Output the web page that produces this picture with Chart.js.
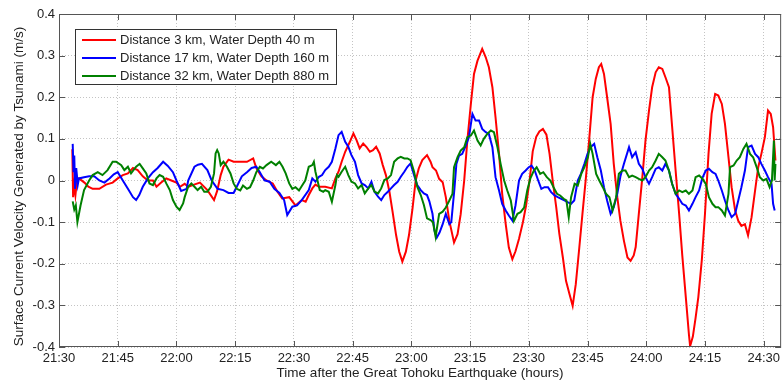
<!DOCTYPE html>
<html>
<head>
<meta charset="utf-8">
<script src="https://cdn.jsdelivr.net/npm/chart.js@4.4.1/dist/chart.umd.min.js"></script>
<style>
  html, body { margin: 0; padding: 0; background: #fff; overflow: hidden; }
  #wrap { position: relative; width: 784px; height: 380px; }
</style>
</head>
<body>
<div id="wrap"><canvas id="tsunamiChart"></canvas></div>
<script>
// ── Data: [minutes after 21:30, velocity m/s] ──
const seriesLabels = [
  'Distance 3 km, Water Depth 40 m',
  'Distance 17 km, Water Depth 160 m',
  'Distance 32 km, Water Depth 880 m'
];
const seriesColors = ['#ff0000', '#0000ff', '#008000'];

const timeTickLabels = ['21:30', '21:45', '22:00', '22:15', '22:30', '22:45', '23:00',
  '23:15', '23:30', '23:45', '24:00', '24:15', '24:30'];

const redSeries = [
  [3.4,0.075],[3.6,-0.04],[3.9,-0.01],[4.2,-0.035],[4.6,0],[5.1,0.005],[6.5,-0.005],[7.5,-0.015],
  [8.6,-0.02],[10.3,-0.02],[12,-0.01],[13.7,-0.005],[15,0.005],[16.3,0.013],[17.6,0.017],[18.9,0.03],
  [20.1,0.025],[21.4,0.01],[22.7,0],[24,0],[24.9,-0.015],[26.1,-0.005],[27.4,0.005],[28.7,0],
  [30,-0.005],[30.9,-0.015],[32.1,-0.008],[33,-0.015],[34.5,-0.01],[36,-0.005],[37.9,-0.023],
  [39.6,-0.047],[40.4,-0.025],[41.3,0.013],[42,0.033],[43.3,0.05],[44.6,0.045],[46.3,0.045],
  [48,0.045],[49.6,0.053],[50.4,0.03],[51.7,0.01],[53,0],[54.6,-0.007],[55.8,-0.027],[57,-0.043],
  [58.8,-0.04],[60.4,-0.06],[62,-0.047],[63,-0.051],[63.8,-0.035],[64.7,-0.019],[65.5,-0.01],
  [66.4,-0.015],[68,-0.015],[69.7,-0.019],[70.6,0.005],[71.4,0.021],[72.2,0.045],[73.1,0.069],
  [74.3,0.093],[75.2,0.113],[76,0.097],[76.8,0.077],[77.7,0.089],[78.5,0.081],[79.4,0.069],
  [80.2,0.073],[81,0.081],[81.9,0.065],[82.7,0.037],[83.5,0.013],[84.4,-0.027],[85.2,-0.075],
  [86.1,-0.131],[86.9,-0.171],[87.7,-0.195],[88.6,-0.171],[89.4,-0.131],[90.3,-0.067],[91.1,0],
  [91.9,0.029],[92.8,0.049],[94,0.061],[94.9,0.045],[95.4,0.032],[96.3,0.024],[97.1,0.004],
  [98,-0.004],[98.8,-0.04],[99.7,-0.097],[100.9,-0.149],[101.8,-0.129],[102.6,-0.081],[103.5,0],
  [104.3,0.096],[105.2,0.184],[106,0.256],[106.9,0.288],[108.1,0.316],[109,0.296],[109.8,0.272],
  [110.7,0.224],[111.5,0.152],[112.4,0.064],[113.2,-0.032],[114.1,-0.105],[114.9,-0.161],
  [115.8,-0.189],[116.6,-0.17],[117.5,-0.14],[118.5,-0.1],[119.3,-0.06],[120.2,0],[121,0.07],
  [121.9,0.105],[122.7,0.118],[123.6,0.124],[124.5,0.11],[125.3,0.064],[126.1,0],[127,-0.064],
  [127.8,-0.128],[128.7,-0.185],[129.5,-0.241],[130.4,-0.273],[131.2,-0.301],[132,-0.249],
  [132.9,-0.161],[133.7,-0.08],[134.6,0.008],[135.4,0.096],[136.3,0.2],[137.1,0.244],[137.9,0.272],
  [138.5,0.28],[139.2,0.256],[140,0.2],[140.9,0.136],[141.7,0.04],[142.6,-0.04],[143.4,-0.097],
  [144.3,-0.145],[145.2,-0.185],[146,-0.193],[146.8,-0.18],[147.3,-0.16],[148.1,-0.08],[149,0.008],
  [149.8,0.096],[150.7,0.168],[151.5,0.224],[152.4,0.26],[153.2,0.272],[154.1,0.268],[154.9,0.248],
  [155.8,0.224],[156.6,0.13],[157.5,0.024],[158.4,-0.08],[159.2,-0.18],[160.1,-0.28],[160.9,-0.37],
  [161.2,-0.398],[161.9,-0.375],[162.6,-0.33],[163.3,-0.28],[164.2,-0.19],[165,-0.08],[165.9,0.064],
  [166.7,0.16],[167.6,0.208],[168.4,0.204],[169.3,0.184],[170.1,0.136],[171,0.056],[171.8,-0.016],
  [172.7,-0.072],[173.5,-0.097],[174.3,-0.109],[175.2,-0.105],[176,-0.132],[176.9,-0.088],
  [177.8,-0.024],[178.6,0.032],[179.4,0.064],[180.3,0.104],[181.1,0.168],[181.8,0.16],[182.4,0.128],
  [183,0.048]
];

const blueSeries = [
  [3.5,0.088],[3.7,0.02],[3.9,0.06],[4.1,-0.02],[4.4,0.03],[4.8,-0.01],[5.1,0.005],[6.4,0.008],
  [7.7,0.01],[9,0.01],[10.3,0],[11.6,-0.005],[12.9,0.005],[14,0.015],[15,0.02],[16.3,0],
  [17.6,-0.02],[18.9,-0.04],[19.7,-0.047],[20.5,-0.035],[21.4,-0.015],[22.7,0.005],[24,0.02],
  [25.2,0.03],[26.6,0.045],[27.8,0.035],[29.1,0.02],[30,0],[31.2,-0.025],[32.6,-0.02],[33,0],
  [34.6,0.033],[35.5,0.038],[36.5,0.04],[37.9,0.025],[39,0],[40.5,-0.02],[42,-0.023],[43.3,-0.03],
  [44.6,-0.03],[45.4,-0.015],[46.7,0.01],[48,0.02],[49.2,0.03],[50.4,0.033],[51.3,0.02],[52.5,0],
  [53.8,-0.003],[55,-0.02],[56.3,-0.03],[57.5,-0.047],[58.3,-0.083],[59.6,-0.063],[60.8,-0.06],
  [62,-0.047],[63.8,-0.023],[64.7,0.005],[65.5,-0.003],[66.4,0.009],[67.2,0.013],[68,0.025],
  [68.9,0.033],[69.7,0.045],[70.6,0.077],[71.4,0.109],[72.2,0.117],[73.1,0.093],[73.9,0.081],
  [74.7,0.061],[75.6,0.045],[76.4,0.013],[77.3,-0.007],[78.1,-0.011],[79,-0.019],[79.8,-0.003],
  [80.6,-0.027],[81.5,-0.039],[82.3,-0.047],[83.1,-0.035],[84,-0.027],[84.8,-0.019],[85.6,-0.011],
  [86.5,-0.003],[87.3,0.009],[88.2,0.021],[89,0.033],[89.8,0.041],[90.7,0.013],[91.5,-0.011],
  [92.4,-0.023],[93.2,-0.031],[94,-0.035],[94.6,-0.05],[95.4,-0.08],[95.9,-0.12],[96.5,-0.137],
  [97.2,-0.125],[98,-0.105],[98.8,-0.08],[99.7,-0.105],[100.2,-0.1],[101,-0.02],[101.5,0.04],
  [102.2,0.06],[103,0.064],[103.9,0.084],[104.7,0.104],[105.6,0.16],[106.4,0.144],[107.3,0.144],
  [108.1,0.124],[109,0.116],[109.8,0.112],[110.7,0.08],[111.5,0.008],[112.4,-0.024],[113.2,-0.056],
  [114.1,-0.072],[114.9,-0.084],[115.8,-0.096],[116.6,-0.06],[117.5,0],[118.3,0.016],[119.2,0.024],
  [120,0.032],[120.7,0.036],[121.5,0.024],[122.4,0],[123.2,-0.02],[124,-0.016],[124.9,-0.016],
  [125.7,-0.028],[126.6,-0.036],[127.4,-0.04],[128.3,-0.044],[129.1,-0.048],[129.9,-0.052],
  [130.8,-0.056],[131.6,-0.048],[132.5,0],[133.3,0.016],[134.2,0.04],[135,0.064],[135.8,0.08],
  [136.7,0.088],[137.5,0.056],[138.4,0.024],[139.2,-0.016],[140,-0.048],[140.9,-0.08],[141.7,-0.064],
  [142.6,-0.032],[143.4,0.01],[144.3,0.04],[145.6,0.08],[146.4,0.056],[147.3,0.068],[148.1,0.04],
  [149,0.028],[149.8,0.008],[150.7,-0.008],[151.5,0.008],[152.4,0.028],[153.2,0.032],[154.1,0.024],
  [154.9,0.04],[155.8,0.024],[156.6,-0.008],[157.5,-0.032],[158.4,-0.044],[159.2,-0.056],
  [160.1,-0.06],[160.9,-0.072],[161.8,-0.056],[162.6,-0.04],[163.5,-0.024],[164.3,0.005],
  [165.2,0.024],[166,0.028],[166.9,0.02],[167.7,0.016],[168.4,0],[169.3,-0.024],[170.1,-0.048],
  [171,-0.072],[171.8,-0.088],[172.7,-0.08],[173.5,-0.048],[174.3,-0.016],[175.2,0.024],[176,0.08],
  [176.9,0.084],[177.8,0.064],[178.6,0.056],[179.4,0.04],[180.3,0.024],[181.1,0.008],[182,-0.008],
  [182.4,-0.056],[182.8,-0.072]
];

const greenSeries = [
  [3.5,-0.05],[3.9,-0.07],[4.3,-0.06],[4.7,-0.1],[5.5,-0.06],[6.4,-0.023],[7.7,0],[8.6,0.013],
  [9.9,0.02],[11.1,0.013],[12.4,0.025],[13.7,0.045],[14.6,0.045],[15.9,0.037],[16.7,0.025],
  [17.6,0.033],[18.4,0.017],[19.7,0.033],[20.6,0.04],[21.4,0.029],[22.3,0.017],[23.1,-0.007],
  [24,-0.011],[24.9,0.005],[25.7,0.013],[26.6,0.009],[27.4,-0.007],[28.3,-0.023],[29.1,-0.047],
  [30,-0.063],[30.8,-0.071],[31.7,-0.055],[32.1,-0.04],[33,-0.015],[33.8,-0.007],[34.6,-0.015],
  [35.4,-0.023],[36.3,-0.015],[37.1,-0.027],[37.9,-0.027],[38.8,-0.015],[39.6,0.017],[40,0.065],
  [40.4,0.073],[40.8,0.065],[41.3,0.037],[42,0.045],[42.9,0.033],[43.8,0.017],[44.6,-0.007],
  [45.4,-0.02],[46.3,-0.024],[47,-0.012],[48,-0.02],[48.8,-0.016],[49.6,0],[50.4,0.02],[51.3,0.033],
  [52.1,0.029],[53,0.037],[54.2,0.045],[55.4,0.037],[56.3,0.045],[57.1,0.033],[57.9,0.017],
  [58.8,-0.007],[59.6,-0.02],[60.4,-0.016],[61.3,-0.024],[62.1,-0.012],[62.9,0],[63.8,0.033],
  [64.7,0.037],[65.1,0.045],[65.5,0.021],[66.6,-0.023],[67.5,-0.027],[68,-0.023],[68.9,-0.027],
  [69.7,-0.051],[70.6,-0.011],[71,0.013],[71.4,0.009],[72.2,0.021],[73.1,0.033],[73.9,0.013],
  [74.7,-0.003],[75.6,-0.007],[76.4,-0.019],[77.3,-0.011],[78.1,-0.031],[79,-0.019],[79.8,-0.011],
  [80.6,-0.027],[81.5,-0.031],[82.3,-0.019],[83.1,0.001],[84,0.005],[84.8,0.013],[85.6,0.045],
  [86.5,0.053],[87.3,0.057],[88.2,0.053],[89,0.053],[89.8,0.049],[90.7,0.021],[91.5,-0.015],
  [92.4,-0.035],[93.2,-0.059],[94,-0.091],[94.9,-0.095],[95.5,-0.1],[96.2,-0.135],[97.1,-0.08],
  [98,-0.075],[98.8,-0.065],[99.7,-0.048],[100.5,-0.032],[100.9,0.032],[101.8,0.056],[102.6,0.072],
  [103.5,0.08],[104.3,0.104],[105.2,0.108],[106,0.12],[106.9,0.096],[107.7,0.084],[108.5,0.1],
  [109.4,0.112],[110.3,0.12],[111.1,0.116],[112,0.08],[112.8,0.04],[113.7,0],[114.5,-0.024],
  [115.4,-0.048],[116.2,-0.097],[117.1,-0.08],[117.9,-0.076],[118.8,-0.065],[119.6,-0.024],
  [120.4,0.005],[121.3,0.024],[122,0.032],[122.9,0.016],[123.7,0.02],[124.6,0.008],[125.5,0],
  [126.3,-0.016],[127.2,-0.032],[128,-0.036],[128.9,-0.044],[129.6,-0.048],[130.2,-0.088],
  [130.8,-0.04],[131.7,-0.008],[132.5,-0.012],[133.4,0.016],[134.2,0.032],[135.1,0.056],[135.7,0.088],
  [136.3,0.064],[137.2,0.016],[138,0],[138.9,-0.016],[139.7,-0.032],[140.6,-0.04],[141.4,-0.072],
  [142.3,-0.04],[143,0.016],[143.9,0.024],[144.7,0.024],[145.6,0.008],[146.4,0.012],[147.3,0.008],
  [148.1,0.004],[149,0],[149.8,0.008],[150.7,0.024],[151.5,0.032],[152.4,0.048],[153.2,0.064],
  [154.1,0.056],[154.9,0.048],[155.8,0.024],[156.6,-0.008],[157.5,-0.032],[158.4,-0.024],
  [159.2,-0.028],[160.1,-0.024],[160.9,-0.032],[161.8,-0.024],[162.6,0.008],[163.5,0.012],
  [164.3,0.005],[165.2,-0.008],[166,-0.04],[166.9,-0.056],[167.7,-0.064],[168.4,-0.064],
  [169.3,-0.072],[170.1,-0.084],[171,-0.032],[171.4,0.032],[172.3,0.036],[173.1,0.048],[173.9,0.056],
  [174.8,0.076],[175.6,0.088],[176.5,0.064],[177.3,0.056],[178.2,0.032],[179,0.008],[179.9,0],
  [180.7,0.004],[181.5,-0.016],[182.1,0],[182.6,0.096],[182.8,0],[183,0.04]
];

const yTitle = 'Surface Current Velocity Generated by Tsunami (m/s)';
const xTitle = 'Time after the Great Tohoku Earthquake (hours)';

// ── Ortak sabitler ──
const FONT = "'Liberation Sans', Arial, Helvetica, sans-serif";
const FRAME = '#555555';

const toPoints = s => s.map(p => ({ x: p[0], y: p[1] }));

// MATLAB tarzı çerçeve + içe dönük tick'ler
const framePlugin = {
  id: 'frame',
  afterDatasetsDraw(chart) {
    const { ctx, chartArea: a, scales: { x, y } } = chart;
    ctx.save();
    ctx.strokeStyle = FRAME;
    ctx.lineWidth = 1;
    ctx.strokeRect(a.left + 0.5, a.top + 0.5, a.right - a.left - 1, a.bottom - a.top - 1);
    ctx.beginPath();
    x.ticks.forEach(t => {
      const px = Math.round(x.getPixelForValue(t.value)) + 0.5;
      ctx.moveTo(px, a.top); ctx.lineTo(px, a.top + 6);
      ctx.moveTo(px, a.bottom); ctx.lineTo(px, a.bottom - 6);
    });
    y.ticks.forEach(t => {
      const py = Math.round(y.getPixelForValue(t.value)) + 0.5;
      ctx.moveTo(a.left, py); ctx.lineTo(a.left + 6, py);
      ctx.moveTo(a.right, py); ctx.lineTo(a.right - 6, py);
    });
    ctx.stroke();
    ctx.restore();
  }
};

// Legend kutusu + eksen başlıkları
const annotPlugin = {
  id: 'annot',
  afterDraw(chart) {
    const { ctx, chartArea: a } = chart;
    ctx.save();

    // legend
    const bx = 75, by = 29, bw = 261, bh = 55, rowH = 18;
    ctx.fillStyle = '#fff';
    ctx.fillRect(bx, by, bw, bh);
    ctx.strokeStyle = '#333';
    ctx.lineWidth = 1;
    ctx.strokeRect(bx + 0.5, by + 0.5, bw, bh);
    ctx.font = '13px ' + FONT;
    ctx.textBaseline = 'middle';
    ctx.textAlign = 'left';
    chart.data.datasets.forEach((ds, i) => {
      const ry = by + 11 + i * rowH;
      ctx.strokeStyle = ds.borderColor;
      ctx.lineWidth = 2;
      ctx.beginPath();
      ctx.moveTo(bx + 7, ry); ctx.lineTo(bx + 41, ry);
      ctx.stroke();
      ctx.fillStyle = '#222';
      ctx.fillText(ds.label, bx + 45, ry + 0.5);
    });

    // eksen başlıkları
    ctx.fillStyle = '#222';
    ctx.font = '13.5px ' + FONT;
    ctx.textAlign = 'center';
    ctx.fillText(xTitle, (a.left + a.right) / 2, 373);
    ctx.translate(19, (a.top + a.bottom) / 2 + 6);
    ctx.rotate(-Math.PI / 2);
    ctx.fillText(yTitle, 0, 0);
    ctx.restore();
  }
};

const ctx = document.getElementById('tsunamiChart').getContext('2d');
new Chart(ctx, {
  type: 'line',
  data: {
    datasets: [redSeries, blueSeries, greenSeries].map((s, i) => ({
      label: seriesLabels[i],
      data: toPoints(s),
      borderColor: seriesColors[i],
      backgroundColor: seriesColors[i],
      borderWidth: 2,
      pointRadius: 0,
      tension: 0,
      order: 2 - i
    }))
  },
  options: {
    responsive: true,
    maintainAspectRatio: false,
    animation: false,
    layout: { padding: { left: 0, top: 14, right: 1, bottom: 0 } },
    scales: {
      x: {
        type: 'linear',
        min: 0,
        max: 184.45,
        afterFit(scale) { scale.height = 33; },
        afterBuildTicks(scale) {
          scale.ticks = scale.ticks.filter(t => t.value % 15 === 0);
        },
        ticks: {
          stepSize: 15,
          includeBounds: false,
          autoSkip: false,
          maxRotation: 0,
          padding: 4,
          color: '#222',
          font: { size: 13, family: FONT },
          callback(value) { return timeTickLabels[Math.round(value / 15)]; }
        },
        grid: { color: '#c4c4c4', lineWidth: 1, drawTicks: false },
        border: { display: false, dash: [1, 2] }
      },
      y: {
        min: -0.4,
        max: 0.4,
        afterFit(scale) { scale.width = 59; },
        ticks: {
          stepSize: 0.1,
          padding: 4,
          color: '#222',
          font: { size: 13, family: FONT },
          callback(value) {
            const r = Math.round(value * 10) / 10;
            return r === 0 ? '0' : String(r);
          }
        },
        grid: { color: '#c4c4c4', lineWidth: 1, drawTicks: false },
        border: { display: false, dash: [1, 2] }
      }
    },
    plugins: {
      legend: { display: false },
      tooltip: { enabled: false }
    }
  },
  plugins: [framePlugin, annotPlugin]
});
</script>
</body>
</html>
